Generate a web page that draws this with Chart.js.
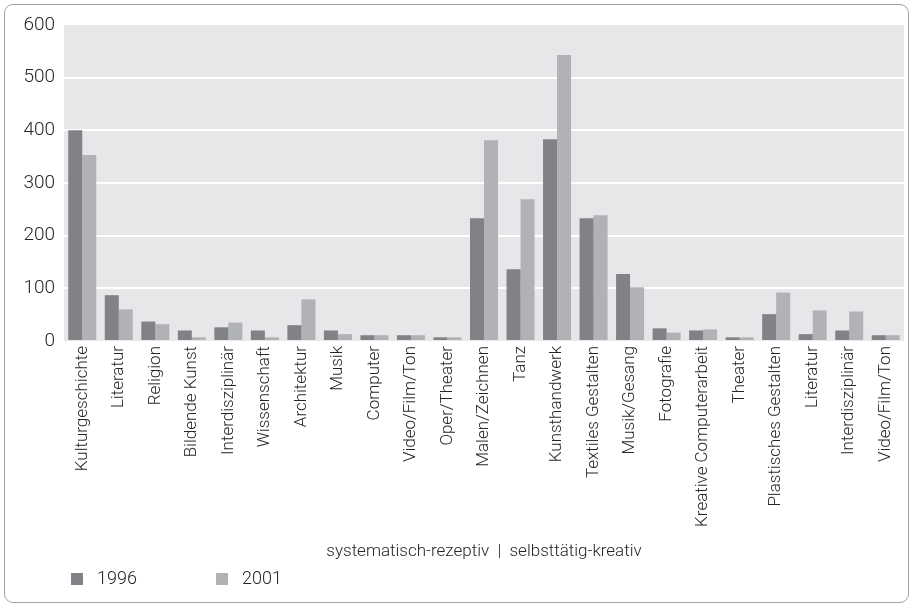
<!DOCTYPE html>
<html>
<head>
<meta charset="utf-8">
<script src="https://cdn.jsdelivr.net/npm/chart.js@4.4.1/dist/chart.umd.min.js"></script>
<style>
    body { margin: 0; background: #fff; }
    #wrap { position: relative; width: 913px; height: 607px; }
    #card {
        position: absolute; left: 4px; top: 4px; width: 903px; height: 597px;
        border: 1.5px solid #a3a3a3; border-radius: 9px; pointer-events: none;
    }
    canvas { position: absolute; left: 0; top: 0; }
</style>
</head>
<body>
<div id="wrap">
    <canvas id="chart" width="913" height="607"></canvas>
    <div id="card"></div>
</div>
<script>
const categories = [
    "Kulturgeschichte", "Literatur", "Religion", "Bildende Kunst", "Interdisziplinär",
    "Wissenschaft", "Architektur", "Musik", "Computer", "Video/Film/Ton", "Oper/Theater",
    "Malen/Zeichnen", "Tanz", "Kunsthandwerk", "Textiles Gestalten", "Musik/Gesang",
    "Fotografie", "Kreative Computerarbeit", "Theater", "Plastisches Gestalten",
    "Literatur", "Interdisziplinär", "Video/Film/Ton"
];
const values1996 = [400, 87, 37, 20, 26, 20, 30, 20, 11, 11, 7, 233, 136, 383, 233, 127, 24, 20, 7, 51, 13, 20, 11];
const values2001 = [353, 60, 32, 7, 35, 7, 79, 13, 11, 11, 7, 381, 269, 543, 239, 102, 16, 22, 7, 92, 58, 56, 11];
const yTicks = [0, 100, 200, 300, 400, 500, 600];
const axisTitle = "systematisch-rezeptiv  |  selbsttätig-kreativ";

const FONT = "Roboto, 'Open Sans', sans-serif";
const TEXT = "#262626";

// grey plot background
const plotBg = {
    id: "plotBg",
    beforeDraw(chart) {
        const a = chart.chartArea;
        const c = chart.ctx;
        c.save();
        c.fillStyle = "#e6e7e9";
        c.fillRect(a.left, a.top, a.right - a.left, a.bottom - a.top);
        c.restore();
    }
};

// legend at bottom left with wide gaps
const bottomLegend = {
    id: "bottomLegend",
    afterDraw(chart) {
        const c = chart.ctx;
        const xs = [71, 216];
        c.save();
        c.font = "300 18px " + FONT;
        c.textBaseline = "middle";
        chart.data.datasets.forEach((ds, i) => {
            c.fillStyle = ds.backgroundColor;
            c.fillRect(xs[i], 573, 12, 12);
            c.fillStyle = TEXT;
            c.fillText(ds.label, xs[i] + 26, 579.5);
        });
        c.restore();
    }
};

new Chart(document.getElementById("chart"), {
    type: "bar",
    data: {
        labels: categories,
        datasets: [
            { label: "1996", data: values1996, backgroundColor: "#818286" },
            { label: "2001", data: values2001, backgroundColor: "#b1b2b5" }
        ]
    },
    options: {
        responsive: false,
        animation: false,
        layout: { padding: { left: 0, right: 9, top: 25, bottom: 41 } },
        datasets: { bar: { barPercentage: 1, categoryPercentage: 0.767 } },
        plugins: {
            legend: { display: false },
            tooltip: { enabled: false }
        },
        scales: {
            x: {
                grid: { display: false, drawTicks: false },
                border: { display: false },
                ticks: {
                    color: TEXT, font: { family: FONT, size: 17, weight: 300 },
                    minRotation: 90, maxRotation: 90, autoSkip: false, padding: 5
                },
                title: {
                    display: true, text: axisTitle, color: TEXT,
                    font: { family: FONT, size: 17, weight: 300 }, padding: { top: 4, bottom: 4 }
                },
                afterFit(scale) { scale.height = 225; }
            },
            y: {
                min: 0, max: 600,
                afterBuildTicks(scale) { scale.ticks = yTicks.map(v => ({ value: v })); },
                grid: {
                    drawTicks: false, lineWidth: 2,
                    color: ctx => (ctx.tick && ctx.tick.value > 0 && ctx.tick.value < 600) ? "#ffffff" : "rgba(0,0,0,0)"
                },
                border: { display: false },
                ticks: { color: TEXT, font: { family: FONT, size: 19, weight: 300 }, padding: 9 },
                afterFit(scale) { scale.width = 64; }
            }
        }
    },
    plugins: [plotBg, bottomLegend]
});
</script>
</body>
</html>
